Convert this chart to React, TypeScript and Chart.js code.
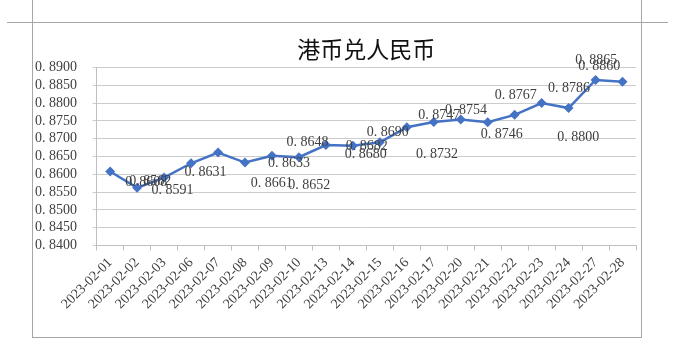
import React, { useEffect, useRef } from "react";
import { Chart, registerables } from "chart.js";

Chart.register(...registerables);

const dates = [
  "2023-02-01", "2023-02-02", "2023-02-03", "2023-02-06", "2023-02-07",
  "2023-02-08", "2023-02-09", "2023-02-10", "2023-02-13", "2023-02-14",
  "2023-02-15", "2023-02-16", "2023-02-17", "2023-02-20", "2023-02-21",
  "2023-02-22", "2023-02-23", "2023-02-24", "2023-02-27", "2023-02-28",
];

const rates = [
  0.8608, 0.8562, 0.8591, 0.8631, 0.8661,
  0.8633, 0.8652, 0.8648, 0.8682, 0.868,
  0.869, 0.8732, 0.8747, 0.8754, 0.8746,
  0.8767, 0.88, 0.8786, 0.8865, 0.886,
];

const yMin = 0.84;
const yMax = 0.89;
const yStep = 0.005;

const title = "港币兑人民币";

// label placement relative to each point (layout only), as in the reference
const labelOffsets: [number, number][] = [
  [36, 11], [13, -6], [8.5, 12.7], [14.5, 9.4], [53.7, 31],
  [44, 0.6], [37.3, 29.3], [8.5, -15], [40.8, 1], [12.8, 8.3],
  [8, -9.7], [30.2, 26.6], [5.6, -7], [5.2, -9], [14, 12.3],
  [1, -20], [36.7, 34], [0.5, -20], [0.8, -20], [-23.2, -15],
];

const fmt = (v: number) => Number(v).toFixed(4).replace(".", ". ");

const SERIF = "'Liberation Serif', 'Times New Roman', serif";
const LINE = "#4472C4";

export default function App() {
  const ref = useRef<HTMLCanvasElement>(null);

  useEffect(() => {
    if (!ref.current) return;
    const labelPlugin = {
      id: "pointValueLabels",
      afterDatasetsDraw(chart: any) {
        const ctx = chart.ctx;
        const meta = chart.getDatasetMeta(0);
        ctx.save();
        ctx.font = `14px ${SERIF}`;
        ctx.fillStyle = "#404040";
        ctx.textAlign = "center";
        ctx.textBaseline = "middle";
        meta.data.forEach((pt: any, i: number) => {
          const [dx, dy] = labelOffsets[i];
          ctx.fillText(fmt(rates[i]), pt.x + dx, pt.y + dy);
        });
        ctx.restore();
      },
    };

    const chart = new Chart(ref.current, {
      type: "line",
      data: {
        labels: dates,
        datasets: [
          {
            data: rates,
            borderColor: LINE,
            backgroundColor: LINE,
            borderWidth: 2.5,
            pointStyle: "rectRot",
            pointRadius: 5,
            pointBorderWidth: 0,
            pointBackgroundColor: LINE,
            tension: 0,
          },
        ],
      },
      options: {
        animation: false,
        responsive: false,
        layout: { padding: { left: 0, right: 3, top: 0, bottom: 0 } },
        plugins: {
          legend: { display: false },
          tooltip: { enabled: false },
          title: {
            display: true,
            text: title,
            fullSize: false,
            color: "#111",
            font: { family: "'Noto Sans CJK SC', sans-serif", size: 23, weight: "normal" },
            padding: { top: 12.8, bottom: 4.1 },
          },
        },
        scales: {
          x: {
            type: "category",
            offset: true,
            grid: {
              display: true,
              drawOnChartArea: false,
              drawTicks: true,
              tickLength: 5,
              offset: true,
              color: "#bfbfbf",
            },
            border: { color: "#bfbfbf" },
            ticks: {
              autoSkip: false,
              minRotation: 45,
              maxRotation: 45,
              padding: 4,
              color: "#404040",
              font: { family: SERIF, size: 14 },
            },
            afterFit: (s: any) => {
              s.height = 91.5;
            },
          },
          y: {
            min: yMin,
            max: yMax,
            grid: { color: "#cccccc", tickLength: 4, drawTicks: true },
            border: { color: "#bfbfbf" },
            ticks: {
              stepSize: yStep,
              autoSkip: false,
              padding: 15.7,
              color: "#404040",
              font: { family: SERIF, size: 14 },
              callback: (v: any) => fmt(Number(v)),
            },
            afterFit: (s: any) => {
              s.width = 63.7;
            },
          },
        },
      },
      plugins: [labelPlugin],
    });
    return () => chart.destroy();
  }, []);

  const line = (style: React.CSSProperties) => (
    <div style={{ position: "absolute", background: "#a6a6a6", ...style }} />
  );

  return (
    <div style={{ position: "absolute", left: 0, top: 0, width: 675, height: 353, background: "#fff" }}>
      {line({ left: 7, top: 22, width: 661, height: 1 })}
      {line({ left: 32, top: 0, width: 1, height: 338 })}
      {line({ left: 641, top: 0, width: 1, height: 338 })}
      {line({ left: 32, top: 337, width: 610, height: 1 })}
      <canvas
        ref={ref}
        width={608}
        height={314}
        style={{ position: "absolute", left: 33, top: 23, width: 608, height: 314, display: "block" }}
      />
    </div>
  );
}
